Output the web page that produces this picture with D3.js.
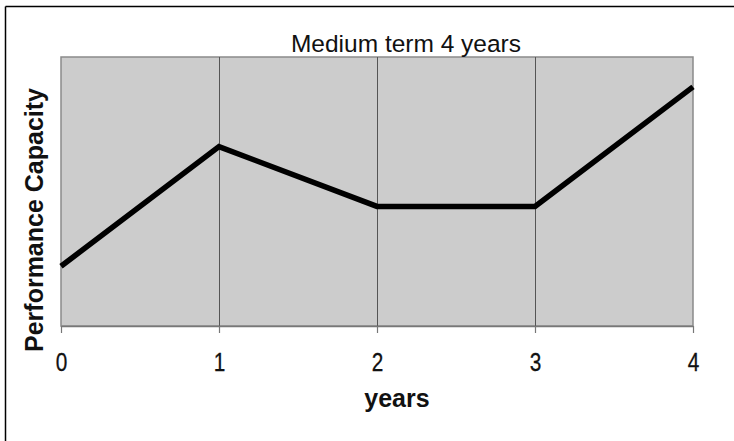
<!DOCTYPE html>
<html>
<head>
<meta charset="utf-8">
<script src="https://cdn.jsdelivr.net/npm/d3@7"></script>
<style>
  html, body { margin: 0; padding: 0; background: #fff; }
  svg { display: block; font-family: "Liberation Sans", Arial, Helvetica, sans-serif; }
</style>
</head>
<body>
<div id="chart"></div>
<script>
// chart data
const years = [0, 1, 2, 3, 4];
const capacity = [2, 6, 4, 4, 8];
const yDomain = [0, 9];
const titleText = 'Medium term 4 years';
const xLabelText = 'years';
const yLabelText = 'Performance Capacity';

const width = 734, height = 441;
const margin = { top: 57, right: 41, bottom: 115, left: 61 };
const plotW = width - margin.left - margin.right;
const plotH = height - margin.top - margin.bottom;

const svg = d3.select('#chart').append('svg')
  .attr('width', width)
  .attr('height', height);

// outer frame (top and left edges visible)
svg.append('line').attr('x1', 5.5).attr('x2', width).attr('y1', 6.5).attr('y2', 6.5)
  .attr('stroke', '#000').attr('stroke-width', 1.5);
svg.append('line').attr('x1', 5.5).attr('x2', 5.5).attr('y1', 6.5).attr('y2', height)
  .attr('stroke', '#000').attr('stroke-width', 1.5);

const g = svg.append('g').attr('transform', `translate(${margin.left},${margin.top})`);

const x = d3.scaleLinear().domain(d3.extent(years)).range([0, plotW]);
const y = d3.scaleLinear().domain(yDomain).range([plotH, 0]);

// plot background
g.append('rect')
  .attr('x', 0).attr('y', 0)
  .attr('width', plotW).attr('height', plotH)
  .attr('fill', '#cccccc')
  .attr('stroke', '#8a8a8a')
  .attr('stroke-width', 1.5);

// vertical gridlines
g.selectAll('.grid')
  .data(years.slice(1, -1))
  .enter().append('line')
  .attr('class', 'grid')
  .attr('x1', d => Math.round(x(d)) + 0.5)
  .attr('x2', d => Math.round(x(d)) + 0.5)
  .attr('y1', 0).attr('y2', plotH)
  .attr('stroke', '#555')
  .attr('stroke-width', 1);

// x axis
const xAxis = d3.axisBottom(x)
  .tickValues(years)
  .tickFormat(d3.format('d'))
  .tickSizeInner(7)
  .tickSizeOuter(0)
  .tickPadding(20);

const xAxisG = g.append('g')
  .attr('transform', `translate(0,${plotH})`)
  .call(xAxis);

xAxisG.select('.domain').attr('stroke', '#777').attr('stroke-width', 1.5);
xAxisG.selectAll('.tick line').attr('stroke', '#777').attr('stroke-width', 1.2);
xAxisG.selectAll('.tick text')
  .attr('fill', '#111')
  .attr('stroke', '#111')
  .attr('stroke-width', 0.3)
  .attr('transform', 'scale(0.8,1)')
  .style('font-size', '26px')
  .style('font-family', '"Liberation Sans", Arial, sans-serif');

// the line
const line = d3.line()
  .x((d, i) => x(years[i]))
  .y(d => y(d));

g.append('path')
  .datum(capacity)
  .attr('fill', 'none')
  .attr('stroke', '#000')
  .attr('stroke-width', 5.5)
  .attr('stroke-linejoin', 'miter')
  .attr('d', line);

// title
svg.append('text')
  .attr('x', margin.left + plotW / 2 + 29)
  .attr('y', 52)
  .attr('text-anchor', 'middle')
  .style('font-size', '24.5px')
  .attr('fill', '#111')
  .text(titleText);

// x label
svg.append('text')
  .attr('x', margin.left + plotW / 2 + 20)
  .attr('y', 407)
  .attr('text-anchor', 'middle')
  .style('font-size', '25px')
  .style('font-weight', 'bold')
  .attr('fill', '#111')
  .text(xLabelText);

// y label
svg.append('text')
  .attr('transform', `translate(43,${220}) rotate(-90)`)
  .attr('text-anchor', 'middle')
  .style('font-size', '25px')
  .style('font-weight', 'bold')
  .attr('fill', '#111')
  .text(yLabelText);
</script>
</body>
</html>
